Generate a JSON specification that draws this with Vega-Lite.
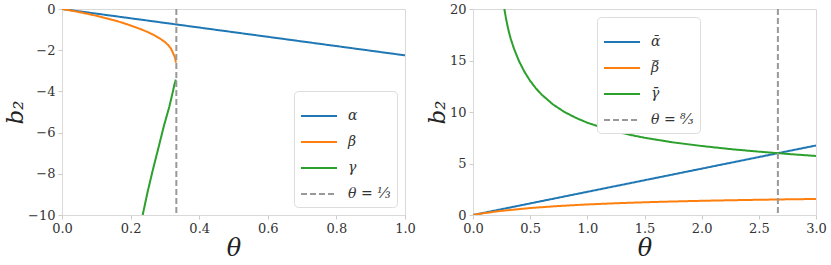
{
  "$schema": "https://vega.github.io/schema/vega-lite/v6.json",
  "background": "white",
  "padding": {"left": 4, "top": 2, "right": 5, "bottom": 2},
  "spacing": 68,
  "bounds": "flush",
  "datasets": {
    "left": [
      {"s": "α", "theta": 0, "b": 0},
      {"s": "α", "theta": 0.25, "b": -0.5625},
      {"s": "α", "theta": 0.5, "b": -1.125},
      {"s": "α", "theta": 0.75, "b": -1.6875},
      {"s": "α", "theta": 1.0, "b": -2.25},
      {"s": "β", "theta": 0, "b": 0},
      {"s": "β", "theta": 0.025, "b": -0.07},
      {"s": "β", "theta": 0.05, "b": -0.15},
      {"s": "β", "theta": 0.075, "b": -0.235},
      {"s": "β", "theta": 0.1, "b": -0.33},
      {"s": "β", "theta": 0.125, "b": -0.43},
      {"s": "β", "theta": 0.15, "b": -0.54},
      {"s": "β", "theta": 0.175, "b": -0.66},
      {"s": "β", "theta": 0.2, "b": -0.8},
      {"s": "β", "theta": 0.225, "b": -0.95},
      {"s": "β", "theta": 0.25, "b": -1.12},
      {"s": "β", "theta": 0.27, "b": -1.28},
      {"s": "β", "theta": 0.285, "b": -1.43},
      {"s": "β", "theta": 0.3, "b": -1.6},
      {"s": "β", "theta": 0.31, "b": -1.76},
      {"s": "β", "theta": 0.318, "b": -1.93},
      {"s": "β", "theta": 0.324, "b": -2.15},
      {"s": "β", "theta": 0.328, "b": -2.3},
      {"s": "β", "theta": 0.3305, "b": -2.43},
      {"s": "β", "theta": 0.332, "b": -2.6},
      {"s": "γ", "theta": 0.2352, "b": -10},
      {"s": "γ", "theta": 0.25, "b": -8.85},
      {"s": "γ", "theta": 0.265, "b": -7.8},
      {"s": "γ", "theta": 0.281, "b": -6.75},
      {"s": "γ", "theta": 0.297, "b": -5.68},
      {"s": "γ", "theta": 0.3128, "b": -4.75},
      {"s": "γ", "theta": 0.322, "b": -4.1},
      {"s": "γ", "theta": 0.328, "b": -3.65},
      {"s": "γ", "theta": 0.332, "b": -3.43}
    ],
    "leftRule": [{"s": "θ = ⅓", "theta": 0.33333}],
    "right": [
      {"s": "\u03b1\u0304", "theta": 0, "b": 0},
      {"s": "\u03b1\u0304", "theta": 1, "b": 2.25},
      {"s": "\u03b1\u0304", "theta": 2, "b": 4.5},
      {"s": "\u03b1\u0304", "theta": 3, "b": 6.75},
      {"s": "\u03b2\u0305", "theta": 0, "b": 0},
      {"s": "\u03b2\u0305", "theta": 0.05, "b": 0.096},
      {"s": "\u03b2\u0305", "theta": 0.1, "b": 0.183},
      {"s": "\u03b2\u0305", "theta": 0.25, "b": 0.404},
      {"s": "\u03b2\u0305", "theta": 0.5, "b": 0.677},
      {"s": "\u03b2\u0305", "theta": 0.75, "b": 0.875},
      {"s": "\u03b2\u0305", "theta": 1.0, "b": 1.024},
      {"s": "\u03b2\u0305", "theta": 1.25, "b": 1.141},
      {"s": "\u03b2\u0305", "theta": 1.5, "b": 1.235},
      {"s": "\u03b2\u0305", "theta": 1.75, "b": 1.313},
      {"s": "\u03b2\u0305", "theta": 2.0, "b": 1.377},
      {"s": "\u03b2\u0305", "theta": 2.25, "b": 1.432},
      {"s": "\u03b2\u0305", "theta": 2.5, "b": 1.479},
      {"s": "\u03b2\u0305", "theta": 2.75, "b": 1.52},
      {"s": "\u03b2\u0305", "theta": 3.0, "b": 1.556},
      {"s": "\u03b3\u0304", "theta": 0.274, "b": 20},
      {"s": "\u03b3\u0304", "theta": 0.29, "b": 19.0},
      {"s": "\u03b3\u0304", "theta": 0.31, "b": 17.95},
      {"s": "\u03b3\u0304", "theta": 0.33, "b": 17.1},
      {"s": "\u03b3\u0304", "theta": 0.36, "b": 16.1},
      {"s": "\u03b3\u0304", "theta": 0.4, "b": 15.0},
      {"s": "\u03b3\u0304", "theta": 0.45, "b": 13.9},
      {"s": "\u03b3\u0304", "theta": 0.5, "b": 13.02},
      {"s": "\u03b3\u0304", "theta": 0.55, "b": 12.3},
      {"s": "\u03b3\u0304", "theta": 0.6, "b": 11.69},
      {"s": "\u03b3\u0304", "theta": 0.7, "b": 10.73},
      {"s": "\u03b3\u0304", "theta": 0.8, "b": 10.0},
      {"s": "\u03b3\u0304", "theta": 0.9, "b": 9.43},
      {"s": "\u03b3\u0304", "theta": 1.0, "b": 8.96},
      {"s": "\u03b3\u0304", "theta": 1.125, "b": 8.5},
      {"s": "\u03b3\u0304", "theta": 1.25, "b": 8.1},
      {"s": "\u03b3\u0304", "theta": 1.375, "b": 7.78},
      {"s": "\u03b3\u0304", "theta": 1.5, "b": 7.5},
      {"s": "\u03b3\u0304", "theta": 1.75, "b": 7.05},
      {"s": "\u03b3\u0304", "theta": 2.0, "b": 6.7},
      {"s": "\u03b3\u0304", "theta": 2.25, "b": 6.4},
      {"s": "\u03b3\u0304", "theta": 2.5, "b": 6.15},
      {"s": "\u03b3\u0304", "theta": 2.75, "b": 5.93},
      {"s": "\u03b3\u0304", "theta": 3.0, "b": 5.73}
    ],
    "rightRule": [{"s": "θ = ⁸⁄₃", "theta": 2.66667}]
  },
  "config": {
    "font": "DejaVu Serif",
    "view": {"stroke": "#d9d9d9", "strokeWidth": 1},
    "axis": {
      "domain": false,
      "grid": false,
      "ticks": true,
      "tickColor": "#cccccc",
      "tickSize": 4,
      "labelFont": "DejaVu Serif",
      "labelFontSize": 13,
      "labelColor": "#333333",
      "labelPadding": 3,
      "labelFlush": false,
      "titleFont": "DejaVu Serif",
      "titleFontWeight": "normal",
      "titleFontStyle": "italic",
      "titleColor": "#222222"
    },
    "axisX": {"titleFontSize": 24, "titlePadding": 1},
    "axisY": {"titleFontSize": 23, "titlePadding": 0},
    "legend": {
      "symbolType": "stroke",
      "symbolSize": 1296,
      "symbolStrokeWidth": 2,
      "labelFont": "DejaVu Serif",
      "labelFontSize": 14,
      "labelFontStyle": "italic",
      "labelColor": "#333333",
      "labelOffset": 10,
      "padding": 6,
      "strokeColor": "#dddddd",
      "fillColor": "white",
      "cornerRadius": 4,
      "offset": 8
    }
  },
  "resolve": {
    "scale": {"color": "independent", "strokeDash": "independent", "x": "independent", "y": "independent"},
    "legend": {"color": "independent", "strokeDash": "independent"}
  },
  "hconcat": [
    {
      "width": 343,
      "height": 206,
      "layer": [
        {
          "data": {"name": "left"},
          "mark": {"type": "line", "strokeWidth": 2, "clip": true},
          "encoding": {
            "x": {"field": "theta", "type": "quantitative", "scale": {"domain": [0, 1], "nice": false, "zero": false}, "axis": {"values": [0, 0.2, 0.4, 0.6, 0.8, 1], "format": ".1f", "title": "θ"}},
            "y": {"field": "b", "type": "quantitative", "scale": {"domain": [-10, 0], "nice": false}, "axis": {"values": [0, -2, -4, -6, -8, -10], "title": "b₂"}},
            "color": {"field": "s", "type": "nominal", "scale": {"domain": ["α", "β", "γ", "θ = ⅓"], "range": ["#1f77b4", "#ff7f0e", "#2ca02c", "#999999"]}, "legend": {"title": null, "orient": "bottom-right", "rowPadding": -12}},
            "strokeDash": {"field": "s", "type": "nominal", "scale": {"domain": ["α", "β", "γ", "θ = ⅓"], "range": [[1, 0], [1, 0], [1, 0], [6, 3]]}, "legend": {"title": null, "orient": "bottom-right", "rowPadding": -12}}
          }
        },
        {
          "data": {"name": "leftRule"},
          "mark": {"type": "rule", "strokeWidth": 2},
          "encoding": {
            "x": {"field": "theta", "type": "quantitative"},
            "color": {"field": "s", "type": "nominal"},
            "strokeDash": {"field": "s", "type": "nominal"}
          }
        }
      ]
    },
    {
      "width": 343,
      "height": 206,
      "layer": [
        {
          "data": {"name": "right"},
          "mark": {"type": "line", "strokeWidth": 2, "clip": true},
          "encoding": {
            "x": {"field": "theta", "type": "quantitative", "scale": {"domain": [0, 3], "nice": false, "zero": false}, "axis": {"values": [0, 0.5, 1, 1.5, 2, 2.5, 3], "format": ".1f", "title": "θ"}},
            "y": {"field": "b", "type": "quantitative", "scale": {"domain": [0, 20], "nice": false}, "axis": {"values": [0, 5, 10, 15, 20], "title": "b₂"}},
            "color": {"field": "s", "type": "nominal", "scale": {"domain": ["\u03b1\u0304", "\u03b2\u0305", "\u03b3\u0304", "θ = ⁸⁄₃"], "range": ["#1f77b4", "#ff7f0e", "#2ca02c", "#999999"]}, "legend": {"title": null, "orient": "none", "direction": "vertical", "legendX": 124, "legendY": 8, "rowPadding": -7}},
            "strokeDash": {"field": "s", "type": "nominal", "scale": {"domain": ["\u03b1\u0304", "\u03b2\u0305", "\u03b3\u0304", "θ = ⁸⁄₃"], "range": [[1, 0], [1, 0], [1, 0], [6, 3]]}, "legend": {"title": null, "orient": "none", "direction": "vertical", "legendX": 124, "legendY": 8, "rowPadding": -7}}
          }
        },
        {
          "data": {"name": "rightRule"},
          "mark": {"type": "rule", "strokeWidth": 2},
          "encoding": {
            "x": {"field": "theta", "type": "quantitative"},
            "color": {"field": "s", "type": "nominal"},
            "strokeDash": {"field": "s", "type": "nominal"}
          }
        }
      ]
    }
  ]
}
